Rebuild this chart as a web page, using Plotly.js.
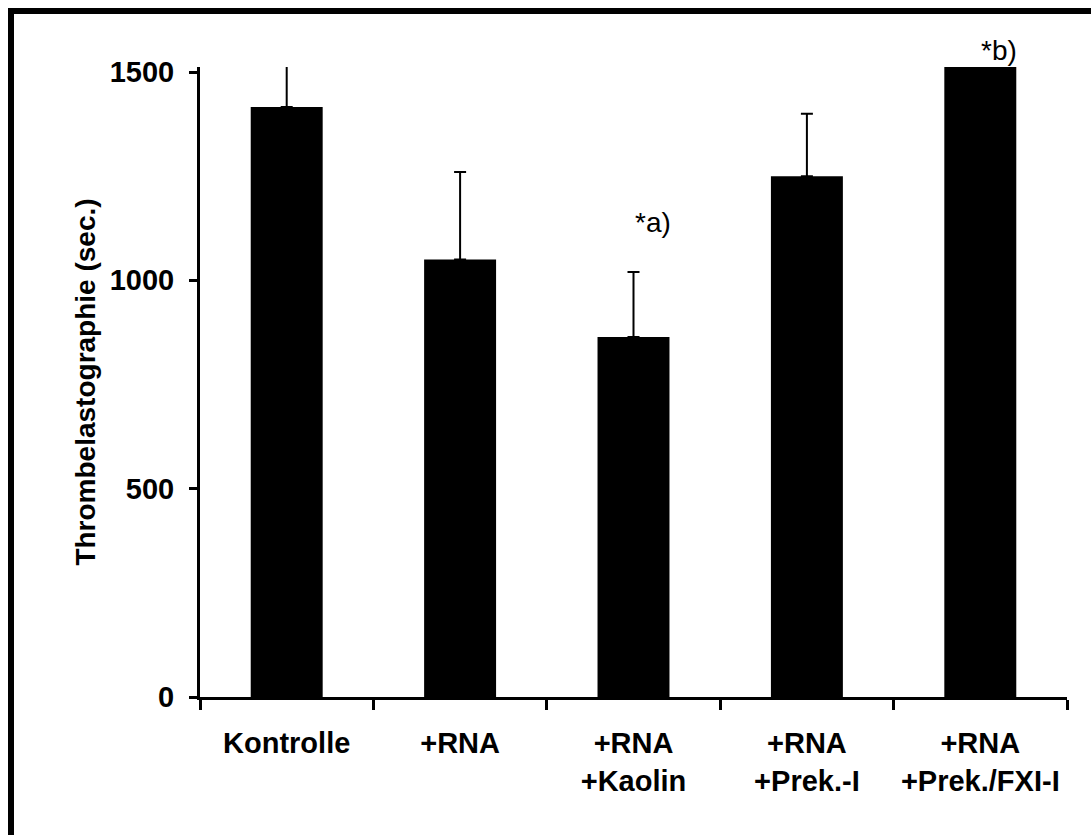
<!DOCTYPE html>
<html><head><meta charset="utf-8">
<script src="https://cdn.plot.ly/plotly-3.0.1.min.js"></script>
<style>
html,body{margin:0;padding:0;background:#fff;overflow:hidden}
#chart{position:absolute;left:0;top:0;width:1091px;height:835px}
#frame{position:absolute;left:8px;top:8px;width:1200px;height:1000px;border-left:6px solid #000;border-top:6px solid #000;pointer-events:none;z-index:5}
</style></head><body>
<div id="chart"></div><div id="frame"></div>
<script>
const categories = ["Kontrolle", "+RNA", "+RNA<br>+Kaolin", "+RNA<br>+Prek.-I", "+RNA<br>+Prek./FXI-I"];
const meanValues = [1416, 1050, 864, 1250, 1560];
const errorPlus = [100, 210, 156, 150, 80];
const errorMinus = [0, 0, 0, 0, 0];
const yTickValues = [0, 500, 1000, 1500];
const yTickLabels = ["0", "500", "1000", "1500"];
const yTitle = "Thrombelastographie (sec.)";
const sigCategories = [categories[2], categories[4]];
const sigLabels = ["*a)", "*b)"];
const sigValues = [1138, 1500];
const sigShifts = [0, 22];

const FONT = "Arial, 'Liberation Sans', sans-serif";

const trace = {
  type: "bar",
  x: categories,
  y: meanValues,
  marker: {color: "#000", line: {width: 0}},
  error_y: {type: "data", symmetric: false, array: errorPlus, arrayminus: errorMinus,
            color: "#000", thickness: 2, width: 6},
  hoverinfo: "x+y"
};

const annotations = sigLabels.map((t, i) => ({
  x: sigCategories[i], y: sigValues[i], xref: "x", yref: "y", xshift: 19, yshift: sigShifts[i],
  text: t, showarrow: false, xanchor: "center", yanchor: "middle",
  font: {family: FONT, size: 28, color: "#000"}
}));

const layout = {
  width: 1091, height: 835,
  margin: {l: 200, r: 24, t: 67, b: 138},
  paper_bgcolor: "#fff", plot_bgcolor: "#fff",
  showlegend: false,
  bargap: 0.585,
  font: {family: FONT, color: "#000"},
  xaxis: {
    type: "category",
    showline: true, linecolor: "#000", linewidth: 3,
    ticks: "outside", tickson: "boundaries", ticklen: 10, tickwidth: 3, tickcolor: "#000",
    tickfont: {family: FONT, size: 29, color: "#000", weight: "bold"},
    ticklabelstandoff: 18,
    showgrid: false, zeroline: false, fixedrange: true
  },
  yaxis: {
    range: [0, 1512],
    tickmode: "array", tickvals: yTickValues, ticktext: yTickLabels,
    showline: true, linecolor: "#000", linewidth: 3,
    ticks: "outside", ticklen: 8, tickwidth: 3, tickcolor: "#000",
    tickfont: {family: FONT, size: 29, color: "#000", weight: "bold"},
    ticklabelstandoff: 9,
    showgrid: false, zeroline: false, fixedrange: true,
    title: {text: yTitle, font: {family: FONT, size: 28, color: "#000", weight: "bold"}, standoff: 6}
  },
  annotations: annotations
};

Plotly.newPlot("chart", [trace], layout, {displayModeBar: false, staticPlot: true});
</script>
</body></html>
